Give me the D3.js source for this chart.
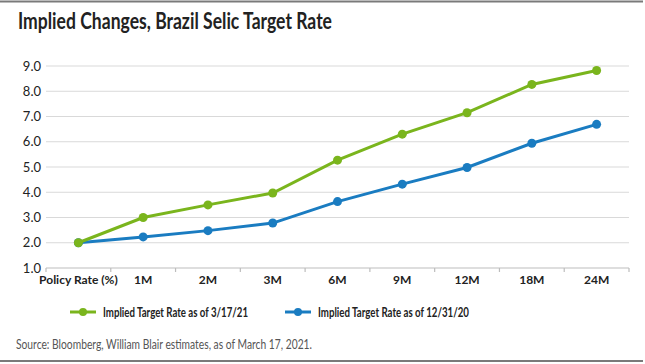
<!DOCTYPE html>
<html>
<head>
<meta charset="utf-8">
<script src="https://cdn.jsdelivr.net/npm/d3@7"></script>
<style>
  body { margin: 0; background: #fff; }
  svg { display: block; font-family: Lato, "Noto Sans", sans-serif; }
</style>
</head>
<body>
<div id="chart"></div>
<script>
'use strict'
let categories = ['Policy Rate (%)', '1M', '2M', '3M', '6M', '9M', '12M', '18M', '24M'];
let rate0317 = [2.0, 3.0, 3.5, 3.97, 5.27, 6.3, 7.15, 8.27, 8.82];
let rate1231 = [2.0, 2.23, 2.48, 2.78, 3.63, 4.32, 4.98, 5.94, 6.69];
let yTicks = [1, 2, 3, 4, 5, 6, 7, 8, 9];
let seriesNames = ['Implied Target Rate as of 3/17/21', 'Implied Target Rate as of 12/31/20'];
let seriesColors = ['#7ab51d', '#1a7cc1'];

let W = 645, H = 364;
let margin = {top: 66, right: 16, bottom: 96, left: 46};
let width = W - margin.left - margin.right;
let height = H - margin.top - margin.bottom;

let svg = d3.select('#chart').append('svg')
  .attr('width', W).attr('height', H);

// frame lines top / bottom
svg.append('line').attr('x1', 0).attr('x2', 643).attr('y1', 1.5).attr('y2', 1.5)
  .attr('stroke', '#7a7a7a').attr('stroke-width', 2);
svg.append('line').attr('x1', 0).attr('x2', 643).attr('y1', 361).attr('y2', 361)
  .attr('stroke', '#7a7a7a').attr('stroke-width', 2);

svg.append('text')
  .attr('x', 18).attr('y', 29)
  .attr('font-size', '22px').attr('font-weight', 'bold').attr('fill', '#222')
  .attr('textLength', 314).attr('lengthAdjust', 'spacingAndGlyphs')
  .text('Implied Changes, Brazil Selic Target Rate');

let g = svg.append('g').attr('transform', 'translate(' + margin.left + ',' + margin.top + ')');

let x = d3.scaleBand().domain(categories).range([0, width]);
let y = d3.scaleLinear().domain([1, 9]).range([height, 0]);

// gridlines
g.selectAll('.grid').data(yTicks.slice(1)).enter().append('line')
  .attr('x1', 0).attr('x2', width)
  .attr('y1', function(d) { return y(d); }).attr('y2', function(d) { return y(d); })
  .attr('stroke', '#d9d9d9').attr('stroke-width', 1.2);

// y axis labels
let yAxis = d3.axisLeft(y).tickValues(yTicks).tickSize(0).tickPadding(5)
  .tickFormat(d3.format('.1f'));
let yg = g.append('g').call(yAxis);
yg.select('.domain').remove();
yg.selectAll('text').attr('font-size', '13px').attr('fill', '#222')
  .attr('font-family', 'Lato, "Noto Sans", sans-serif');

// x axis
let xg = g.append('g').attr('transform', 'translate(0,' + height + ')');
xg.append('line').attr('x1', 0).attr('x2', width).attr('y1', 0).attr('y2', 0)
  .attr('stroke', '#bdbdbd').attr('stroke-width', 1.2);
let bounds = categories.map(function(c) { return x(c); }).concat([width]);
xg.selectAll('.tk').data(bounds).enter().append('line')
  .attr('x1', function(d) { return d; }).attr('x2', function(d) { return d; })
  .attr('y1', 0).attr('y2', 4)
  .attr('stroke', '#bdbdbd').attr('stroke-width', 1.2);
xg.selectAll('.lbl').data(categories).enter().append('text')
  .attr('x', function(d) { return x(d) + x.bandwidth() / 2; })
  .attr('y', 16)
  .attr('text-anchor', 'middle')
  .attr('font-size', '12px').attr('font-weight', 'bold').attr('fill', '#222')
  .text(function(d) { return d; });

// lines
let line = d3.line()
  .x(function(d, i) { return x(categories[i]) + x.bandwidth() / 2; })
  .y(function(d) { return y(d); });

[rate1231, rate0317].forEach(function(series, k) {
  let col = k === 0 ? seriesColors[1] : seriesColors[0];
  g.append('path').datum(series)
    .attr('d', line).attr('fill', 'none')
    .attr('stroke', col).attr('stroke-width', 3);
  g.selectAll('.dot' + k).data(series).enter().append('circle')
    .attr('cx', function(d, i) { return x(categories[i]) + x.bandwidth() / 2; })
    .attr('cy', function(d) { return y(d); })
    .attr('r', 4.5).attr('fill', col);
});

// legend
let legendX = [70, 285];
let legendLen = [145, 151];
seriesNames.forEach(function(name, i) {
  let lg = svg.append('g').attr('transform', 'translate(' + legendX[i] + ',312)');
  lg.append('line').attr('x1', 0).attr('x2', 26).attr('y1', 0).attr('y2', 0)
    .attr('stroke', seriesColors[i]).attr('stroke-width', 3);
  lg.append('circle').attr('cx', 13).attr('cy', 0).attr('r', 4).attr('fill', seriesColors[i]);
  lg.append('text').attr('x', 33).attr('y', 4.5)
    .attr('font-size', '13px').attr('font-weight', 'bold').attr('fill', '#222')
    .attr('textLength', legendLen[i]).attr('lengthAdjust', 'spacingAndGlyphs')
    .text(name);
});

svg.append('text')
  .attr('x', 16).attr('y', 349)
  .attr('font-size', '14px').attr('fill', '#555')
  .attr('textLength', 296).attr('lengthAdjust', 'spacingAndGlyphs')
  .text('Source: Bloomberg, William Blair estimates, as of March 17, 2021.');
</script>
</body>
</html>
